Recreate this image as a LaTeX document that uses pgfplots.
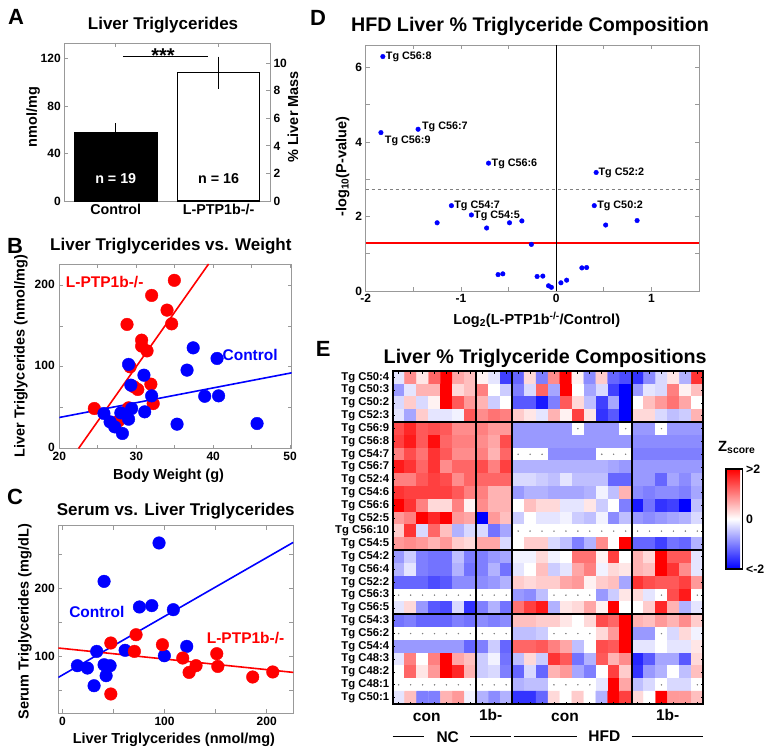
\documentclass[border=0pt]{standalone}
\usepackage{fontspec}
\setmainfont{Liberation Sans}
\usepackage{pgfplots}
\pgfplotsset{compat=1.18}
\newcommand{\fs}[1]{\fontsize{#1}{#1}\selectfont}
\definecolor{frm}{gray}{0.6}
\pgfplotsset{
  every axis/.append style={
    scale only axis,
    font=\bfseries\fs{12},
    axis line style={frm, line width=0.8pt},
    tick style={frm, line width=0.8pt},
    tick align=inside,
    major tick length=4pt,
    minor tick length=4pt,
    /pgf/number format/assume math mode=true,
    tick label style={font=\bfseries\fs{12}, black},
  },
  xlab/.style 2 args={every axis x label/.style={at={(axis description cs:#1,#2)}, anchor=center, font=\bfseries\fs{14.5}}},
  ylab/.style 2 args={every axis y label/.style={at={(axis description cs:#1,#2)}, anchor=center, rotate=90, font=\bfseries\fs{14.5}}},
  tit/.style n args={3}{every axis title/.style={at={(axis description cs:#1,#2)}, anchor=center, font=\bfseries\fs{#3}}},
}
\begin{document}
\bfseries
\begin{tikzpicture}
\useasboundingbox (0pt,0pt) rectangle (764pt,-754pt);

% ---------------- Panel A ----------------
\begin{axis}[at={(64.3pt,-201pt)}, anchor=south west, width=205.7pt, height=158pt,
  xmin=0.5, xmax=2.5, ymin=0, ymax=133,
  xtick={1,2}, xticklabels={Control,L-PTP1b-/-},
  x tick label style={font=\bfseries\fs{14.3}},
  ytick={0,40,80,120}, ytick pos=left,
  ylabel={nmol/mg}, ylab={-0.152}{0.532},
  title={Liver Triglycerides}, tit={0.48}{1.114}{17},
  clip=false]
\addplot[ybar, bar width=0.8, bar shift=0pt, fill=black, draw=black,
  error bars/.cd, y dir=both, y explicit, error mark=none,
  error bar style={black, line width=1pt}] coordinates {(1,57.5) +- (0,7.9)};
\addplot[ybar, bar width=0.8, bar shift=0pt, fill=white, draw=black, line width=1.2pt,
  error bars/.cd, y dir=both, y explicit, error mark=none,
  error bar style={black, line width=1pt}] coordinates {(2,108) +- (0,13.5)};
\draw[black, line width=0.8pt] (axis cs:1.07,122) -- (axis cs:1.897,122);
\node[anchor=base, font=\bfseries\fs{20}] at (axis cs:1.46,117) {***};
\node[white, font=\bfseries\fs{14.3}] at (axis cs:1,18.5) {n = 19};
\node[black, font=\bfseries\fs{14.3}] at (axis cs:2,18.5) {n = 16};
\end{axis}
\begin{axis}[at={(64.3pt,-201pt)}, anchor=south west, width=205.7pt, height=158pt,
  xmin=0.5, xmax=2.5, ymin=0, ymax=11.47,
  axis y line*=right, axis x line=none,
  ytick={0,2,4,6,8,10},
  ylabel={\% Liver Mass}, ylab={1.112}{0.532}]
\addplot[draw=none] coordinates {(1,0)};
\end{axis}

% ---------------- Panel B ----------------
\begin{axis}[at={(59.3pt,-448.5pt)}, anchor=south west, width=232.4pt, height=184.5pt,
  xmin=20, xmax=50.2, ymin=0, ymax=226,
  xtick={20,30,40,50}, minor xtick={25,35,45},
  ytick={0,100,200}, minor ytick={50,150},
  yticklabel style={xshift=-1pt, yshift=1pt},
  xticklabel style={yshift=-0.5pt},
  xlabel={Body Weight (g)}, xlab={0.47}{-0.149},
  ylabel={Liver Triglycerides (nmol/mg)}, ylab={-0.165}{0.5},
  title={Liver Triglycerides vs. Weight}, tit={0.48}{1.098}{17}]
\addplot[red, line width=1.6pt] coordinates {(22.5,0) (39.4,226)};
\addplot[blue, line width=1.6pt] coordinates {(20,38) (50.2,92.7)};
\addplot[only marks, mark=*, mark size=6.3pt, red] coordinates {
 (34.95,206) (32.0,187.5) (34.0,169.5) (28.8,152) (34.6,152.7) (30.7,132.7)
 (30.7,125.4) (31.4,119.6) (29.2,100) (29.7,75.5) (30.2,72.3) (31.9,78.8)
 (32.2,55) (29.0,49.8) (24.55,49) (27.7,33.8)};
\addplot[only marks, mark=*, mark size=6.3pt, blue] coordinates {
 (37.4,123.3) (40.5,110.3) (29.0,103) (31.0,89.8) (36.6,96) (29.3,77.6)
 (32.0,64.5) (38.9,64) (40.7,64.5) (29.4,49) (25.8,42.9) (28.0,43.6)
 (31.1,44.9) (26.6,32.6) (29.0,35.9) (27.2,26.5) (28.2,18.4) (35.3,29.8) (45.7,30.6)};
\node[blue, font=\bfseries\fs{15.5}] at (axis cs:44.8,115) {Control};
\node[red, font=\bfseries\fs{15.5}] at (axis cs:25.9,204) {L-PTP1b-/-};
\end{axis}

% ---------------- Panel C ----------------
\begin{axis}[at={(58.3pt,-713.3pt)}, anchor=south west, width=235pt, height=187.6pt,
  xmin=-4, xmax=226, ymin=16, ymax=293,
  xtick={0,100,200}, minor xtick={50,150},
  ytick={100,200}, minor ytick={50,150,250},
  xlabel={Liver Triglycerides (nmol/mg)}, xlab={0.492}{-0.139},
  ylabel={Serum Triglycerides (mg/dL)}, ylab={-0.142}{0.488},
  title={Serum vs. Liver Triglycerides}, tit={0.5}{1.08}{17}]
\addplot[blue, line width=1.6pt] coordinates {(-4,69) (226,268.4)};
\addplot[red, line width=1.6pt] coordinates {(-4,112.4) (226,76.4)};
\addplot[only marks, mark=*, mark size=6.3pt, blue] coordinates {
 (94.6,267.5) (40.8,210.8) (75.4,173) (87.5,175) (108.6,169) (33.6,107.4)
 (61.4,109) (99.8,101) (121.7,114.8) (14.7,86.3) (24.5,82.8) (40.8,87.7)
 (46.7,86.3) (42.8,71.5) (31,56.7)};
\addplot[only marks, mark=*, mark size=6.3pt, red] coordinates {
 (72.1,132) (47.4,119.8) (70.5,107.4) (97.9,117.3) (117.8,97.6) (151.1,104)
 (130.8,86.3) (124,76.4) (152.1,85.2) (186.3,69.6) (205.9,77) (47.4,44.5)};
\node[blue, font=\bfseries\fs{15.5}] at (axis cs:33.7,165.6) {Control};
\node[red, font=\bfseries\fs{15.5}] at (axis cs:179.3,127) {L-PTP1b-/-};
\end{axis}

% ---------------- Panel D ----------------
\begin{axis}[at={(365.7pt,-291pt)}, anchor=south west, width=333.3pt, height=246pt,
  xmin=-2, xmax=1.5, ymin=0, ymax=6.6,
  xtick={-2,-1,0,1}, minor xtick={-1.5,-0.5,0.5},
  ytick={0,2,4,6}, minor ytick={1,3,5},
  xlabel={Log\textsubscript{2}(L-PTP1b\textsuperscript{-/-}/Control)}, xlab={0.513}{-0.118},
  ylabel={-log\textsubscript{10}(P-value)}, ylab={-0.069}{0.505},
  title={HFD Liver \% Triglyceride Composition}, tit={0.493}{1.077}{19.7},
  clip=false]
\addplot[gray, dashed, line width=0.8pt] coordinates {(-2,2.73) (1.5,2.73)};
\addplot[red, line width=2pt] coordinates {(-2,1.301) (1.5,1.301)};
\addplot[black, line width=1.2pt] coordinates {(0,0) (0,6.6)};
\addplot[only marks, mark=*, mark size=2.3pt, blue] coordinates {
 (-1.82,6.29) (-1.84,4.25) (-1.45,4.34) (-0.71,3.43) (0.42,3.18) (-1.10,2.29)
 (-0.89,2.04) (0.40,2.29) (-1.25,1.83) (-0.73,1.69) (-0.49,1.83) (-0.36,1.88)
 (0.52,1.77) (0.85,1.89) (-0.26,1.25) (-0.61,0.44) (-0.56,0.46) (-0.20,0.39)
 (-0.14,0.40) (-0.08,0.14) (-0.05,0.10) (0.05,0.22) (0.11,0.29) (0.27,0.62) (0.32,0.63)};
\begin{scope}[every node/.style={anchor=west, inner sep=1pt, font=\bfseries\fs{10.8}}]
\node at (axis cs:-1.80,6.27) {Tg C56:8};
\node at (axis cs:-1.81,4.04) {Tg C56:9};
\node at (axis cs:-1.42,4.40) {Tg C56:7};
\node at (axis cs:-0.69,3.42) {Tg C56:6};
\node at (axis cs:0.433,3.17) {Tg C52:2};
\node at (axis cs:-1.082,2.28) {Tg C54:7};
\node at (axis cs:-0.873,2.02) {Tg C54:5};
\node at (axis cs:0.419,2.28) {Tg C50:2};
\end{scope}
\end{axis}

% ---------------- Panel E ----------------
\begin{axis}[at={(392.7pt,-704pt)}, anchor=south west, width=310.6pt, height=333pt,
  xmin=0.5, xmax=26.5, ymin=0.5, ymax=26.5, y dir=reverse,
  axis on top,
  axis line style={black, line width=1.8pt},
  tick style={black, line width=0.8pt},
  major tick length=2.5pt,
  xtick={1,...,26}, xticklabels={},
  ytick={1,...,26},
  yticklabels={Tg C50:4,Tg C50:3,Tg C50:2,Tg C52:3,Tg C56:9,Tg C56:8,Tg C54:7,Tg C56:7,Tg C52:4,Tg C54:6,Tg C56:6,Tg C52:5,Tg C56:10,Tg C54:5,Tg C54:2,Tg C56:4,Tg C52:2,Tg C56:3,Tg C56:5,Tg C54:3,Tg C56:2,Tg C54:4,Tg C48:3,Tg C48:2,Tg C48:1,Tg C50:1},
  yticklabel style={font=\bfseries\fs{11.3}},
  colormap={bwr}{rgb255=(0,0,255) rgb255=(255,255,255) rgb255=(255,0,0)},
  point meta min=-2, point meta max=2,
  colorbar,
  colorbar style={at={(parent axis.east)}, anchor=west, xshift=14pt, yshift=18.5pt,
    width=16.7pt, height=100pt,
    ytick={-2,0,2}, yticklabels={{<-2},{0},{>2}},
    axis line style={black, line width=1.5pt},
    major tick length=0pt,
    yticklabel style={font=\bfseries\fs{12.3}}},
  title={Liver \% Triglyceride Compositions}, tit={0.491}{1.038}{19.7},
  clip=false]
\addplot[matrix plot*, mesh/cols=26, point meta=explicit] table[meta=z, row sep=\\] {
x y z\\
1 1 -0.2\\ 2 1 0.9\\ 3 1 0.2\\ 4 1 1.2\\ 5 1 2\\ 6 1 0.7\\ 7 1 0.5\\ 8 1 0.1\\ 9 1 -0.2\\ 10 1 -1.5\\ 11 1 -1.2\\ 12 1 0.3\\ 13 1 -1\\ 14 1 0.9\\ 15 1 2\\ 16 1 0.1\\ 17 1 -0.9\\ 18 1 0.4\\ 19 1 -1.2\\ 20 1 -1.4\\ 21 1 -1.6\\ 22 1 -0.9\\ 23 1 -0.3\\ 24 1 0.2\\ 25 1 -0.6\\ 26 1 1.6\\
1 2 -0.8\\ 2 2 -0.2\\ 3 2 0.6\\ 4 2 0.6\\ 5 2 2\\ 6 2 0.3\\ 7 2 0.5\\ 8 2 1\\ 9 2 0\\ 10 2 -0.4\\ 11 2 -1\\ 12 2 -0.3\\ 13 2 1.2\\ 14 2 -0.7\\ 15 2 2\\ 16 2 0\\ 17 2 -0.7\\ 18 2 -0.3\\ 19 2 -1.5\\ 20 2 -2\\ 21 2 -0.8\\ 22 2 -0.2\\ 23 2 -0.3\\ 24 2 1\\ 25 2 0.1\\ 26 2 0.5\\
1 3 -0.3\\ 2 3 0.4\\ 3 3 -0.3\\ 4 3 0.1\\ 5 3 2\\ 6 3 1.3\\ 7 3 0.8\\ 8 3 0.6\\ 9 3 -0.4\\ 10 3 0\\ 11 3 -1.3\\ 12 3 -1.3\\ 13 3 -1.8\\ 14 3 -1\\ 15 3 1.3\\ 16 3 0.3\\ 17 3 -0.5\\ 18 3 -1.5\\ 19 3 -0.7\\ 20 3 -2\\ 21 3 0\\ 22 3 0.5\\ 23 3 0.8\\ 24 3 1.1\\ 25 3 0.7\\ 26 3 0\\
1 4 -0.2\\ 2 4 -0.7\\ 3 4 0.4\\ 4 4 -0.2\\ 5 4 -0.2\\ 6 4 -0.1\\ 7 4 1.3\\ 8 4 0.9\\ 9 4 1.1\\ 10 4 1\\ 11 4 0.4\\ 12 4 0.2\\ 13 4 -0.2\\ 14 4 0.6\\ 15 4 0.1\\ 16 4 1.5\\ 17 4 0.2\\ 18 4 -1.6\\ 19 4 -1.3\\ 20 4 -2\\ 21 4 0.3\\ 22 4 0.3\\ 23 4 -0.3\\ 24 4 -0.5\\ 25 4 -0.4\\ 26 4 0.6\\
1 5 1.4\\ 2 5 1.7\\ 3 5 1.3\\ 4 5 1.4\\ 5 5 1.3\\ 6 5 0.9\\ 7 5 0.9\\ 8 5 1\\ 9 5 0.8\\ 10 5 0.8\\ 11 5 -0.8\\ 12 5 -0.8\\ 13 5 -0.8\\ 14 5 -0.8\\ 15 5 -0.8\\ 16 5 0\\ 17 5 -0.8\\ 18 5 -0.8\\ 19 5 -0.8\\ 20 5 0\\ 21 5 -0.8\\ 22 5 -0.8\\ 23 5 0\\ 24 5 -0.8\\ 25 5 -0.8\\ 26 5 -0.8\\
1 6 1.5\\ 2 6 1.8\\ 3 6 1.3\\ 4 6 1.9\\ 5 6 1.2\\ 6 6 1\\ 7 6 1\\ 8 6 0.9\\ 9 6 0.7\\ 10 6 1.4\\ 11 6 -0.8\\ 12 6 -0.8\\ 13 6 -0.8\\ 14 6 -0.8\\ 15 6 -0.8\\ 16 6 -0.8\\ 17 6 -0.8\\ 18 6 -0.8\\ 19 6 -0.8\\ 20 6 -0.8\\ 21 6 -0.9\\ 22 6 -0.9\\ 23 6 -0.9\\ 24 6 -0.9\\ 25 6 -0.9\\ 26 6 -0.9\\
1 7 1\\ 2 7 1.4\\ 3 7 1.1\\ 4 7 1.6\\ 5 7 1.3\\ 6 7 0.9\\ 7 7 0.9\\ 8 7 1\\ 9 7 0.6\\ 10 7 1.2\\ 11 7 0\\ 12 7 0\\ 13 7 0\\ 14 7 -0.9\\ 15 7 -0.9\\ 16 7 -0.9\\ 17 7 -0.9\\ 18 7 0\\ 19 7 0\\ 20 7 0\\ 21 7 -1\\ 22 7 -1\\ 23 7 -1\\ 24 7 -1\\ 25 7 -1\\ 26 7 -1\\
1 8 1.8\\ 2 8 1.6\\ 3 8 1.2\\ 4 8 1.6\\ 5 8 0.9\\ 6 8 1.2\\ 7 8 1.2\\ 8 8 1.4\\ 9 8 1\\ 10 8 1.5\\ 11 8 -0.6\\ 12 8 -0.6\\ 13 8 -0.6\\ 14 8 -0.6\\ 15 8 -0.6\\ 16 8 -0.6\\ 17 8 -0.6\\ 18 8 -0.6\\ 19 8 -0.7\\ 20 8 -0.8\\ 21 8 -0.8\\ 22 8 -0.8\\ 23 8 -0.8\\ 24 8 -0.8\\ 25 8 -0.8\\ 26 8 -0.8\\
1 9 1\\ 2 9 1\\ 3 9 1.3\\ 4 9 1.5\\ 5 9 1.4\\ 6 9 0.9\\ 7 9 1.2\\ 8 9 1.2\\ 9 9 1.2\\ 10 9 1.2\\ 11 9 -0.3\\ 12 9 -0.3\\ 13 9 -0.4\\ 14 9 -0.5\\ 15 9 -0.2\\ 16 9 -0.5\\ 17 9 -0.5\\ 18 9 -0.5\\ 19 9 -1.2\\ 20 9 -1.2\\ 21 9 -0.8\\ 22 9 -0.8\\ 23 9 -1.2\\ 24 9 -0.7\\ 25 9 -0.9\\ 26 9 -0.6\\
1 10 1.6\\ 2 10 1.5\\ 3 10 1.5\\ 4 10 1.5\\ 5 10 1.5\\ 6 10 1.3\\ 7 10 1\\ 8 10 1\\ 9 10 0.6\\ 10 10 0.6\\ 11 10 -0.8\\ 12 10 -0.6\\ 13 10 -0.6\\ 14 10 -0.7\\ 15 10 -0.7\\ 16 10 -0.7\\ 17 10 -0.6\\ 18 10 -0.1\\ 19 10 -0.5\\ 20 10 0.6\\ 21 10 -0.9\\ 22 10 -1\\ 23 10 -0.9\\ 24 10 -0.9\\ 25 10 -1\\ 26 10 -0.7\\
1 11 2\\ 2 11 1.6\\ 3 11 1\\ 4 11 0.3\\ 5 11 0.3\\ 6 11 1\\ 7 11 0.1\\ 8 11 0.9\\ 9 11 0.6\\ 10 11 0.6\\ 11 11 0\\ 12 11 0.5\\ 13 11 0.3\\ 14 11 0.3\\ 15 11 -0.2\\ 16 11 -0.2\\ 17 11 0.2\\ 18 11 -0.4\\ 19 11 0\\ 20 11 -1\\ 21 11 -1.8\\ 22 11 -1.1\\ 23 11 -1.6\\ 24 11 -1.5\\ 25 11 -2\\ 26 11 -0.5\\
1 12 0.8\\ 2 12 1\\ 3 12 2\\ 4 12 1.7\\ 5 12 2\\ 6 12 0.8\\ 7 12 0.7\\ 8 12 -2\\ 9 12 0.8\\ 10 12 0.5\\ 11 12 -0.4\\ 12 12 0\\ 13 12 -0.2\\ 14 12 -0.2\\ 15 12 -0.1\\ 16 12 -0.4\\ 17 12 -0.5\\ 18 12 -0.1\\ 19 12 -0.9\\ 20 12 -0.5\\ 21 12 -0.8\\ 22 12 -0.9\\ 23 12 -0.8\\ 24 12 -0.7\\ 25 12 -0.6\\ 26 12 -0.3\\
1 13 0.4\\ 2 13 1.6\\ 3 13 -0.3\\ 4 13 1.2\\ 5 13 0.5\\ 6 13 -0.6\\ 7 13 -0.3\\ 8 13 -0.3\\ 9 13 -1.1\\ 10 13 -0.7\\ 11 13 0\\ 12 13 0\\ 13 13 0\\ 14 13 0\\ 15 13 0\\ 16 13 0\\ 17 13 0\\ 18 13 0\\ 19 13 0\\ 20 13 0\\ 21 13 0\\ 22 13 0\\ 23 13 0\\ 24 13 0\\ 25 13 0\\ 26 13 0\\
1 14 0.8\\ 2 14 0.9\\ 3 14 0.8\\ 4 14 0.6\\ 5 14 0.8\\ 6 14 0.4\\ 7 14 0.3\\ 8 14 0.7\\ 9 14 0.7\\ 10 14 -0.3\\ 11 14 0\\ 12 14 0.4\\ 13 14 0.4\\ 14 14 -0.3\\ 15 14 -0.5\\ 16 14 -1\\ 17 14 -0.6\\ 18 14 0.9\\ 19 14 0\\ 20 14 2\\ 21 14 -1.2\\ 22 14 -1.2\\ 23 14 -1.5\\ 24 14 -1.1\\ 25 14 -1.2\\ 26 14 -0.6\\
1 15 -0.8\\ 2 15 -0.4\\ 3 15 -1\\ 4 15 -1.1\\ 5 15 -1.1\\ 6 15 -0.5\\ 7 15 -1\\ 8 15 -1\\ 9 15 -0.8\\ 10 15 -0.7\\ 11 15 -0.1\\ 12 15 -0.1\\ 13 15 0.3\\ 14 15 -0.1\\ 15 15 0\\ 16 15 1.1\\ 17 15 1.1\\ 18 15 0.1\\ 19 15 1.5\\ 20 15 0\\ 21 15 0.6\\ 22 15 0.3\\ 23 15 2\\ 24 15 1.3\\ 25 15 1.3\\ 26 15 -0.2\\
1 16 -0.6\\ 2 16 -0.2\\ 3 16 -1\\ 4 16 -1.1\\ 5 16 -1.1\\ 6 16 -0.6\\ 7 16 -1.1\\ 8 16 -1\\ 9 16 -0.6\\ 10 16 -1.1\\ 11 16 -0.2\\ 12 16 0\\ 13 16 0.5\\ 14 16 -0.4\\ 15 16 -0.2\\ 16 16 0.7\\ 17 16 1\\ 18 16 -0.1\\ 19 16 0.3\\ 20 16 0.2\\ 21 16 0.6\\ 22 16 0.5\\ 23 16 2\\ 24 16 1.6\\ 25 16 0.9\\ 26 16 -0.2\\
1 17 -1.2\\ 2 17 -1.2\\ 3 17 -1.2\\ 4 17 -1.4\\ 5 17 -1.3\\ 6 17 -0.9\\ 7 17 -0.9\\ 8 17 -0.9\\ 9 17 -0.8\\ 10 17 -0.6\\ 11 17 0.4\\ 12 17 0.3\\ 13 17 0.4\\ 14 17 0.4\\ 15 17 0.7\\ 16 17 0.8\\ 17 17 0.1\\ 18 17 0.4\\ 19 17 0.5\\ 20 17 -0.7\\ 21 17 1.6\\ 22 17 1.4\\ 23 17 1.3\\ 24 17 1.3\\ 25 17 1.5\\ 26 17 0.8\\
1 18 0\\ 2 18 0\\ 3 18 0\\ 4 18 0\\ 5 18 0\\ 6 18 0\\ 7 18 0\\ 8 18 0\\ 9 18 0\\ 10 18 0\\ 11 18 -0.8\\ 12 18 -0.9\\ 13 18 -0.5\\ 14 18 0\\ 15 18 0\\ 16 18 0\\ 17 18 0\\ 18 18 -0.8\\ 19 18 -0.4\\ 20 18 0.2\\ 21 18 0.3\\ 22 18 -0.2\\ 23 18 0\\ 24 18 1.4\\ 25 18 1.8\\ 26 18 0\\
1 19 -0.2\\ 2 19 0.3\\ 3 19 -0.8\\ 4 19 -1.3\\ 5 19 -1.4\\ 6 19 -0.3\\ 7 19 -1.6\\ 8 19 -1\\ 9 19 -0.6\\ 10 19 -1.1\\ 11 19 1.1\\ 12 19 1.5\\ 13 19 1.8\\ 14 19 -0.6\\ 15 19 0.2\\ 16 19 0.3\\ 17 19 0.7\\ 18 19 0.1\\ 19 19 2\\ 20 19 0\\ 21 19 0\\ 22 19 0.4\\ 23 19 1.7\\ 24 19 0.6\\ 25 19 -0.6\\ 26 19 -0.2\\
1 20 -1.1\\ 2 20 -1\\ 3 20 -1.2\\ 4 20 -1.2\\ 5 20 -1.2\\ 6 20 -1\\ 7 20 -1.1\\ 8 20 -0.9\\ 9 20 -1\\ 10 20 -0.9\\ 11 20 0.5\\ 12 20 0.5\\ 13 20 0.4\\ 14 20 0.4\\ 15 20 0.2\\ 16 20 0\\ 17 20 0.3\\ 18 20 1.4\\ 19 20 1.2\\ 20 20 2\\ 21 20 0.6\\ 22 20 0.5\\ 23 20 0.8\\ 24 20 0.6\\ 25 20 0.9\\ 26 20 0.4\\
1 21 0\\ 2 21 0\\ 3 21 0\\ 4 21 0\\ 5 21 0\\ 6 21 0\\ 7 21 0\\ 8 21 0\\ 9 21 0\\ 10 21 0\\ 11 21 -0.5\\ 12 21 -0.5\\ 13 21 -0.4\\ 14 21 0\\ 15 21 0\\ 16 21 0\\ 17 21 0\\ 18 21 0.3\\ 19 21 0.8\\ 20 21 2\\ 21 21 -0.8\\ 22 21 -0.8\\ 23 21 0\\ 24 21 -0.3\\ 25 21 0.3\\ 26 21 -0.1\\
1 22 -0.8\\ 2 22 -0.8\\ 3 22 -0.8\\ 4 22 -0.8\\ 5 22 -0.8\\ 6 22 -0.8\\ 7 22 -1.2\\ 8 22 -1\\ 9 22 -0.4\\ 10 22 -1.2\\ 11 22 1.2\\ 12 22 1.2\\ 13 22 1.3\\ 14 22 1\\ 15 22 0.7\\ 16 22 -0.5\\ 17 22 0\\ 18 22 1.4\\ 19 22 1.3\\ 20 22 2\\ 21 22 -0.2\\ 22 22 -0.2\\ 23 22 0\\ 24 22 -0.2\\ 25 22 -0.2\\ 26 22 0.2\\
1 23 -0.2\\ 2 23 1\\ 3 23 0\\ 4 23 1\\ 5 23 2\\ 6 23 0.7\\ 7 23 0.5\\ 8 23 -0.4\\ 9 23 -0.1\\ 10 23 -1.1\\ 11 23 -0.5\\ 12 23 0.3\\ 13 23 -0.4\\ 14 23 1.6\\ 15 23 1.3\\ 16 23 -1.1\\ 17 23 -0.6\\ 18 23 1.3\\ 19 23 0.6\\ 20 23 0.9\\ 21 23 -1.7\\ 22 23 -1.3\\ 23 23 -0.7\\ 24 23 -0.7\\ 25 23 -1.3\\ 26 23 0.3\\
1 24 0\\ 2 24 1.2\\ 3 24 0.2\\ 4 24 0.8\\ 5 24 2\\ 6 24 1.7\\ 7 24 0.6\\ 8 24 -0.4\\ 9 24 -0.3\\ 10 24 -1\\ 11 24 -1.2\\ 12 24 -0.3\\ 13 24 -1.2\\ 14 24 0.6\\ 15 24 0.8\\ 16 24 -0.7\\ 17 24 -1\\ 18 24 0\\ 19 24 1.5\\ 20 24 0.4\\ 21 24 -1.6\\ 22 24 -0.8\\ 23 24 -0.6\\ 24 24 0\\ 25 24 -0.5\\ 26 24 0.5\\
1 25 0\\ 2 25 0\\ 3 25 0\\ 4 25 0\\ 5 25 0\\ 6 25 0\\ 7 25 0\\ 8 25 0\\ 9 25 0\\ 10 25 0\\ 11 25 -0.6\\ 12 25 -0.5\\ 13 25 -0.5\\ 14 25 0\\ 15 25 0\\ 16 25 0\\ 17 25 0\\ 18 25 -0.2\\ 19 25 2\\ 20 25 0.7\\ 21 25 -0.5\\ 22 25 -0.3\\ 23 25 0\\ 24 25 -0.3\\ 25 25 -0.3\\ 26 25 0\\
1 26 -0.2\\ 2 26 0.5\\ 3 26 -1\\ 4 26 -1\\ 5 26 0.6\\ 6 26 0.8\\ 7 26 -0.1\\ 8 26 -0.6\\ 9 26 -0.9\\ 10 26 -0.6\\ 11 26 -1.6\\ 12 26 -1.6\\ 13 26 -1.2\\ 14 26 0.3\\ 15 26 0\\ 16 26 0.4\\ 17 26 0\\ 18 26 -0.6\\ 19 26 2\\ 20 26 1.5\\ 21 26 0.3\\ 22 26 0\\ 23 26 2\\ 24 26 0.8\\ 25 26 0.8\\ 26 26 0.5\\
};
\addplot[only marks, mark=*, mark size=0.5pt, gray] coordinates {
 (16,5) (20,5) (23,5)
 (11,7) (12,7) (13,7) (18,7) (19,7) (20,7)
 (11,13) (12,13) (13,13) (14,13) (15,13) (16,13) (17,13) (18,13) (19,13) (20,13) (21,13) (22,13) (23,13) (24,13) (25,13) (26,13)
 (1,18) (2,18) (3,18) (4,18) (5,18) (6,18) (7,18) (8,18) (9,18) (10,18) (14,18) (15,18) (16,18) (17,18) (23,18) (26,18)
 (1,21) (2,21) (3,21) (4,21) (5,21) (6,21) (7,21) (8,21) (9,21) (10,21) (14,21) (15,21) (16,21) (17,21) (23,21)
 (1,25) (2,25) (3,25) (4,25) (5,25) (6,25) (7,25) (8,25) (9,25) (10,25) (14,25) (15,25) (16,25) (17,25) (23,25) (26,25)};
\draw[black, line width=1.8pt] (axis cs:7.5,0.5) -- (axis cs:7.5,26.5);
\draw[black, line width=1.8pt] (axis cs:10.5,0.5) -- (axis cs:10.5,26.5);
\draw[black, line width=1.8pt] (axis cs:20.5,0.5) -- (axis cs:20.5,26.5);
\draw[black, line width=1.8pt] (axis cs:0.5,4.5) -- (axis cs:26.5,4.5);
\draw[black, line width=1.8pt] (axis cs:0.5,14.5) -- (axis cs:26.5,14.5);
\draw[black, line width=1.8pt] (axis cs:0.5,19.5) -- (axis cs:26.5,19.5);
\end{axis}

% ---------------- free text ----------------
\begin{scope}[every node/.style={font=\bfseries\fs{22}}]
\node at (16pt,-17pt) {A};
\node at (15pt,-246pt) {B};
\node at (15pt,-496.5pt) {C};
\node at (318pt,-17.5pt) {D};
\node at (323.3pt,-349.2pt) {E};
\end{scope}
\node[anchor=base west, inner sep=0pt, font=\bfseries\fs{14.8}] at (718pt,-451pt) {Z\textsubscript{score}};
\begin{scope}[every node/.style={font=\bfseries\fs{15.5}}]
\node at (426.7pt,-717.5pt) {con};
\node at (490.7pt,-715pt) {1b-};
\node at (565pt,-717.5pt) {con};
\node at (667.7pt,-715pt) {1b-};
\node at (447.7pt,-737.3pt) {NC};
\node at (604.3pt,-736.3pt) {HFD};
\end{scope}
\draw[black, line width=0.8pt] (392.7pt,-736.7pt) -- (424pt,-736.7pt);
\draw[black, line width=0.8pt] (470pt,-736.7pt) -- (510.7pt,-736.7pt);
\draw[black, line width=0.8pt] (513.7pt,-736.7pt) -- (576.7pt,-736.7pt);
\draw[black, line width=0.8pt] (631.7pt,-736.7pt) -- (703.3pt,-736.7pt);
\end{tikzpicture}
\end{document}
